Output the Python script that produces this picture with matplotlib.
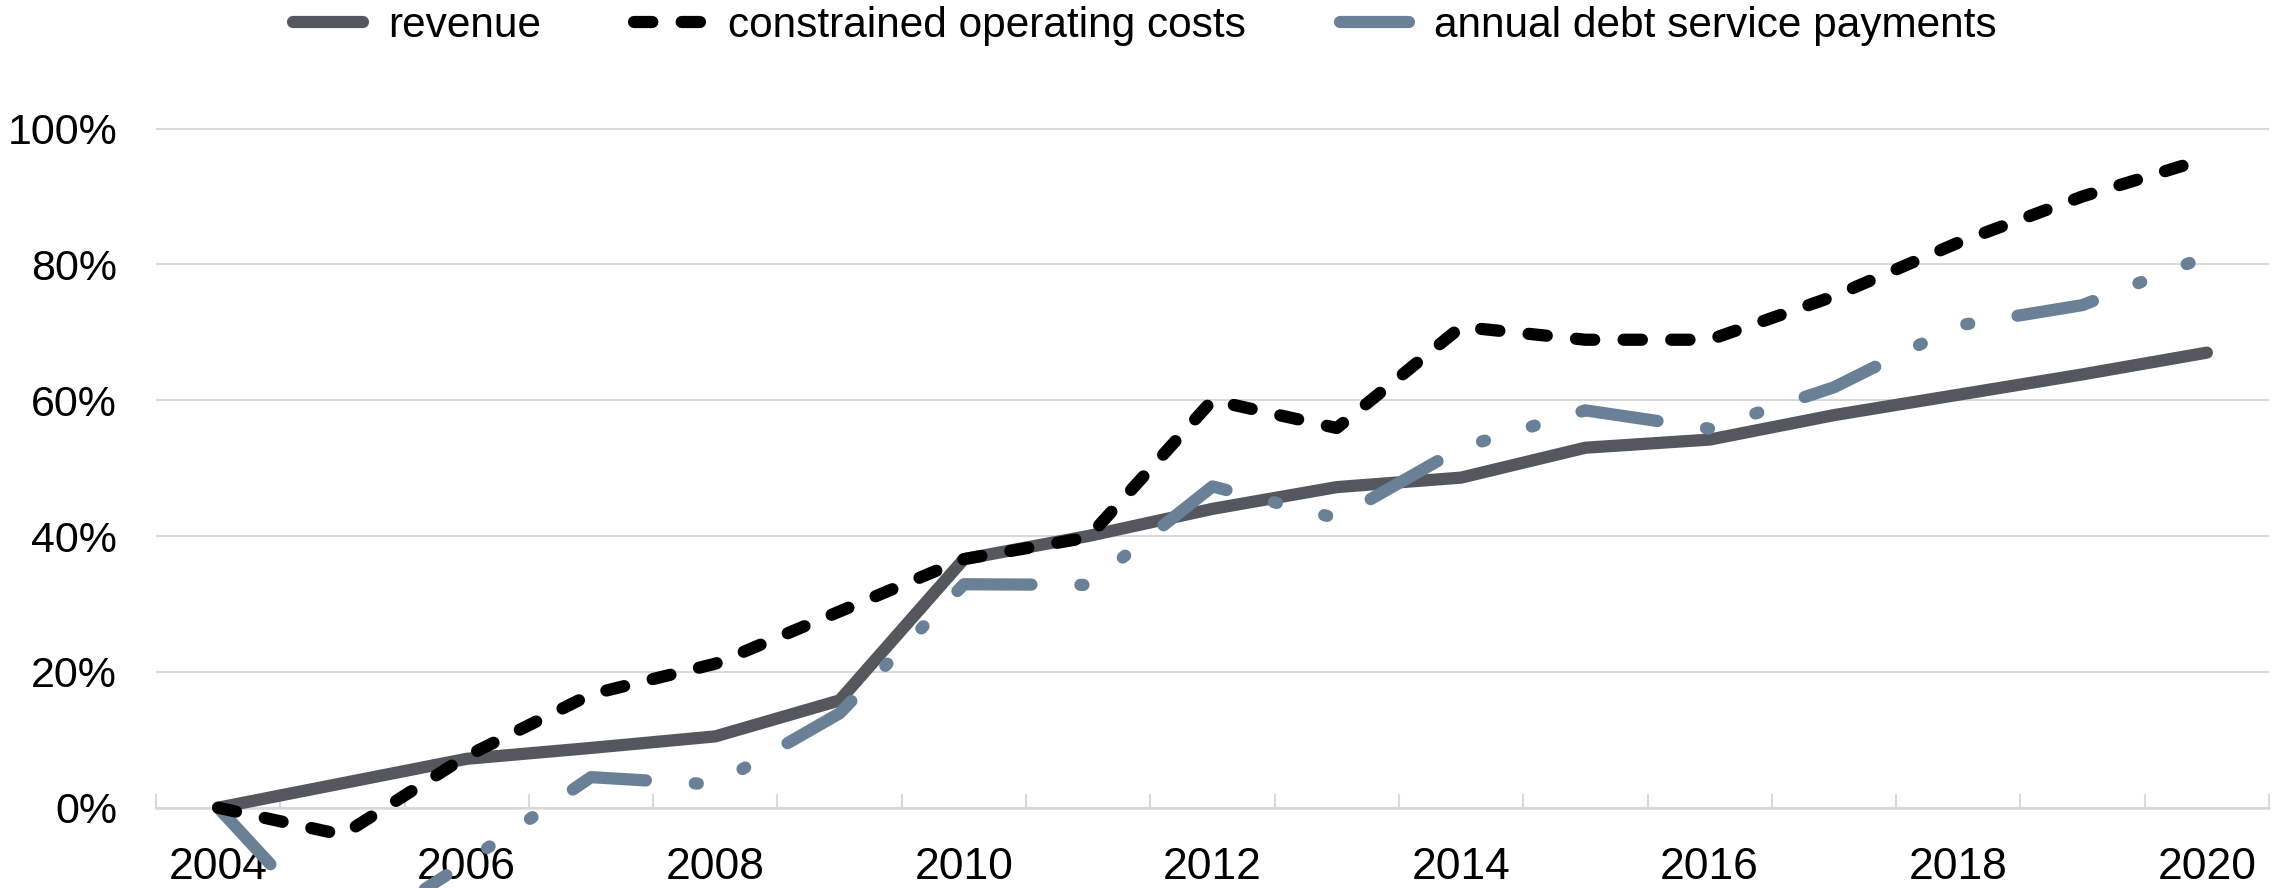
import matplotlib
matplotlib.use("Agg")
import matplotlib.pyplot as plt
import numpy as np
from matplotlib.ticker import FuncFormatter

plt.rcParams['font.family'] = ['Liberation Sans', 'DejaVu Sans']

years = list(range(2004, 2021))
year_labels = [str(y) for y in years[::2]]

revenue = [0.0, 3.6, 7.2, 8.8, 10.5, 15.8, 36.6, 40.0, 44.0, 47.2, 48.6, 53.0, 54.2, 57.8, 60.8, 63.8, 67.0]
operating_costs = [0.0, -4.0, 7.6, 16.7, 21.2, 28.9, 36.6, 39.8, 60.0, 55.9, 70.8, 68.9, 68.9, 75.3, 83.2, 90.0, 95.6]
debt_service = [0.0, -19.8, -8.0, 4.5, 3.4, 13.9, 32.9, 32.8, 47.3, 42.6, 53.0, 58.5, 55.8, 61.9, 71.0, 74.0, 81.2]

series_names = ["revenue", "constrained operating costs", "annual debt service payments"]

W, H = 2290, 888
DPI = 100
fig = plt.figure(figsize=(W / DPI, H / DPI), dpi=DPI)

# axes geometry (pixels)
x0_px, x1_px = 156, 2269
zero_px = 80.3          # 0% line, from bottom
scale_px = 679.2        # pixels per 100%
ymin, ymax = -0.30, 1.01
bottom_px = zero_px + ymin * scale_px
top_px = zero_px + ymax * scale_px
ax = fig.add_axes([x0_px / W, bottom_px / H, (x1_px - x0_px) / W, (top_px - bottom_px) / H])
ax.set_xlim(-0.5, len(years) - 0.5)
ax.set_ylim(ymin, ymax)

x = np.arange(len(years))
rev = np.array(revenue) / 100
cost = np.array(operating_costs) / 100
debt = np.array(debt_service) / 100

LW = 8.8
l1, = ax.plot(x, rev, color='#54585e', lw=LW, solid_capstyle='round',
              solid_joinstyle='round', zorder=3, label=series_names[0])
l2, = ax.plot(x, cost, color='#000000', lw=LW, linestyle=(0, (1.5, 2.4)),
              dash_capstyle='round', dash_joinstyle='round', zorder=5, label=series_names[1])

# The debt line dips below the bottom of the canvas; Agg restarts a dash pattern
# where a clipped path re-enters, so continue the pattern phase explicitly.
debt_pattern = (6.3, 4.0, 0.25, 4.0, 0.25, 4.0)
pts = ax.transData.transform(np.column_stack([x, debt]))
px_per_unit = LW * DPI / 72.0     # dash units are multiples of the line width
clip_y = -1.0                     # Agg canvas clip edge (display coords)
segments_start = [0]
offsets = [0.0]
run_len = 0.0
for i in range(1, len(pts)):
    p, q = pts[i - 1], pts[i]
    seg = np.hypot(*(q - p))
    if p[1] < clip_y <= q[1]:
        t = (clip_y - p[1]) / (q[1] - p[1])
        segments_start.append(i - 1)
        offsets.append((run_len + t * seg) / px_per_unit)
    run_len += seg

debt_lines = []
for k in range(len(offsets)):
    a = segments_start[k]
    b = segments_start[k + 1] + 1 if k + 1 < len(offsets) else len(pts)
    ln, = ax.plot(x[a:b], debt[a:b], color='#6a8096', lw=LW,
                  linestyle=(offsets[k], debt_pattern),
                  dash_capstyle='round', dash_joinstyle='round', zorder=4,
                  label=series_names[2] if k == 0 else '_nolegend_')
    debt_lines.append(ln)
l3 = debt_lines[0]

# y axis
ax.set_yticks([0, 0.2, 0.4, 0.6, 0.8, 1.0])
ax.yaxis.set_major_formatter(FuncFormatter(lambda v, p: f"{v*100:.0f}%"))
ax.tick_params(axis='y', length=0, pad=28, labelsize=31, labelcolor='black')
ax.grid(axis='y', color='#d9d9d9', lw=1.5, zorder=0)

# x axis
ax.spines['bottom'].set_position(('data', 0))
ax.spines['bottom'].set_color('#d9d9d9')
ax.spines['bottom'].set_linewidth(1.8)
ax.spines['bottom'].set_zorder(1)
for s in ['left', 'right', 'top']:
    ax.spines[s].set_visible(False)
ax.set_xticks(np.arange(-0.5, len(years), 1.0))
ax.set_xticks(x[::2], minor=True)
ax.set_xticklabels(year_labels, minor=True)
ax.tick_params(axis='x', which='major', direction='in', length=10, width=1.5,
               color='#d9d9d9', labelbottom=False)
ax.tick_params(axis='x', which='minor', length=0, pad=28, labelsize=32, labelcolor='black')
ax.set_axisbelow(True)

fig.legend(handles=[l1, l2, l3], loc='center', bbox_to_anchor=(0.5, 1 - 26 / H), ncol=3,
           frameon=False, fontsize=30.5, handlelength=1.65, handletextpad=0.58,
           columnspacing=2.2, borderaxespad=0, borderpad=0)

fig.savefig("out.png", dpi=DPI)
